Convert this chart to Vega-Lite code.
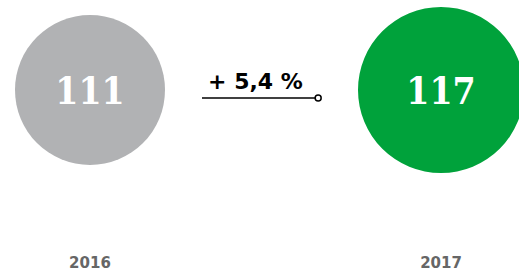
{
  "$schema": "https://vega.github.io/schema/vega-lite/v6.json",
  "width": 519,
  "height": 273,
  "autosize": {"type": "none"},
  "padding": 0,
  "background": "white",
  "config": {"view": {"stroke": null}, "axis": {"disable": true}},
  "datasets": {
    "years": [
      {"year": 2016, "value": 111},
      {"year": 2017, "value": 117}
    ],
    "change": [
      {"from": 2016, "to": 2017, "label": "+ 5,4 %"}
    ]
  },
  "layer": [
    {
      "data": {"name": "years"},
      "mark": {"type": "point", "shape": "circle", "filled": true, "opacity": 1, "strokeWidth": 0},
      "encoding": {
        "x": {"field": "year", "type": "quantitative", "scale": {"domain": [2015.7436, 2017.2222], "nice": false, "zero": false}, "axis": null},
        "y": {"datum": 90, "type": "quantitative", "scale": {"domain": [0, 273], "reverse": true, "nice": false, "zero": false}, "axis": null},
        "size": {"field": "value", "type": "quantitative", "scale": {"domain": [111, 117], "range": [22500, 27556], "zero": false}, "legend": null},
        "color": {"field": "year", "type": "nominal", "scale": {"domain": [2016, 2017], "range": ["#b1b2b4", "#00a23b"]}, "legend": null}
      }
    },
    {
      "data": {"name": "years"},
      "mark": {"type": "text", "font": "DejaVu Serif Condensed, Liberation Serif", "fontWeight": "bold", "fontSize": 37, "color": "white", "baseline": "alphabetic", "align": "center"},
      "encoding": {
        "x": {"field": "year", "type": "quantitative"},
        "y": {"datum": 104, "type": "quantitative"},
        "text": {"field": "value", "type": "quantitative"}
      }
    },
    {
      "data": {"name": "years"},
      "mark": {"type": "text", "font": "DejaVu Sans", "fontWeight": "bold", "fontSize": 15, "color": "#666666", "baseline": "alphabetic", "align": "center"},
      "encoding": {
        "x": {"field": "year", "type": "quantitative"},
        "y": {"datum": 268, "type": "quantitative"},
        "text": {"field": "year", "type": "nominal"}
      }
    },
    {
      "data": {"name": "change"},
      "mark": {"type": "text", "font": "DejaVu Sans", "fontWeight": "bold", "fontSize": 22, "color": "black", "baseline": "alphabetic", "align": "center"},
      "encoding": {
        "x": {"datum": 2016.4715, "type": "quantitative"},
        "y": {"datum": 89, "type": "quantitative"},
        "text": {"field": "label", "type": "nominal"}
      }
    },
    {
      "data": {"name": "change"},
      "mark": {"type": "rule", "color": "black", "strokeWidth": 1.5},
      "encoding": {
        "x": {"datum": 2016.319, "type": "quantitative"},
        "x2": {"datum": 2016.65},
        "y": {"datum": 98, "type": "quantitative"}
      }
    },
    {
      "data": {"name": "change"},
      "mark": {"type": "point", "shape": "circle", "filled": false, "fill": "white", "stroke": "black", "strokeWidth": 1.5, "opacity": 1, "size": 36},
      "encoding": {
        "x": {"datum": 2016.65, "type": "quantitative"},
        "y": {"datum": 98, "type": "quantitative"}
      }
    }
  ]
}
